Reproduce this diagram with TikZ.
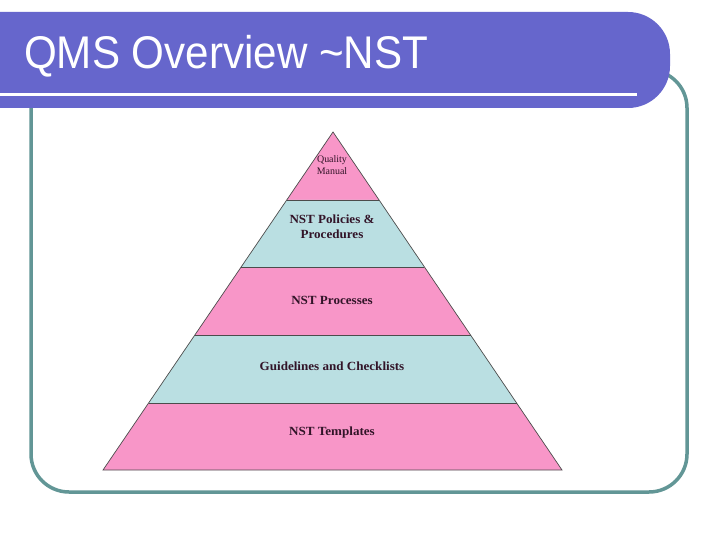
\documentclass[tikz,border=0pt]{standalone}
\usepackage{fontspec}
\setmainfont{Liberation Serif}
\newfontfamily\titlefont{Liberation Sans}
\definecolor{barblue}{RGB}{102,102,204}
\definecolor{frameteal}{RGB}{98,150,150}
\definecolor{pyrpink}{RGB}{248,150,200}
\definecolor{pyrblue}{RGB}{186,223,226}
\definecolor{txtdark}{RGB}{50,20,40}
\tikzset{
  band/.style={draw=black!70, line width=0.7bp},
  lbl/.style={font=\fontsize{12.5}{15}\selectfont\bfseries, text=txtdark, align=center, inner sep=0pt, xscale=1.05},
  smalllbl/.style={font=\fontsize{10}{12}\selectfont, text=txtdark, align=center, inner sep=0pt}
}
\begin{document}
\begin{tikzpicture}[x=1bp,y=-1bp]
\useasboundingbox[fill=white] (0,0) rectangle (720,540);
% frame
\draw[frameteal, line width=3.5bp, rounded corners=38bp] (31,70) rectangle (687,492);
% title bar
\fill[barblue, rounded corners=42bp] (-50,12) rectangle (670,108);
\fill[barblue] (0,12) rectangle (100,108);
\draw[white, line width=3bp] (0,95) -- (637,95);
\node[anchor=west, text=white, font=\titlefont\fontsize{46}{50}\selectfont, inner sep=0pt, xscale=0.92] (title) at (24,56) {QMS Overview \textasciitilde NST};
% pyramid
\coordinate (apex) at (333,132);
\coordinate (bl) at (103,470);
\coordinate (br) at (562,470);
\def\lx#1{333-(#1-132)*0.68047}
\def\rx#1{333+(#1-132)*0.6775}
\fill[pyrpink] (apex) -- ({\lx{200}},200) -- ({\rx{200}},200) -- cycle;
\fill[pyrblue] ({\lx{200}},200) -- ({\lx{267}},267) -- ({\rx{267}},267) -- ({\rx{200}},200) -- cycle;
\fill[pyrpink] ({\lx{267}},267) -- ({\lx{335}},335) -- ({\rx{335}},335) -- ({\rx{267}},267) -- cycle;
\fill[pyrblue] ({\lx{335}},335) -- ({\lx{403}},403) -- ({\rx{403}},403) -- ({\rx{335}},335) -- cycle;
\fill[pyrpink] ({\lx{403}},403) -- (bl) -- (br) -- ({\rx{403}},403) -- cycle;
\draw[band] (apex) -- (bl) -- (br) -- cycle;
\foreach \y in {200,267,335,403} \draw[band] ({\lx{\y}},\y) -- ({\rx{\y}},\y);
\node[smalllbl] (qm) at (332,165) {Quality\\Manual};
\node[lbl] (pol) at (332,227) {NST Policies \&\\Procedures};
\node[lbl] (proc) at (332,300) {NST Processes};
\node[lbl] (guide) at (332,366) {Guidelines and Checklists};
\node[lbl] (tmpl) at (332,433) {NST Templates};
\end{tikzpicture}
\end{document}
